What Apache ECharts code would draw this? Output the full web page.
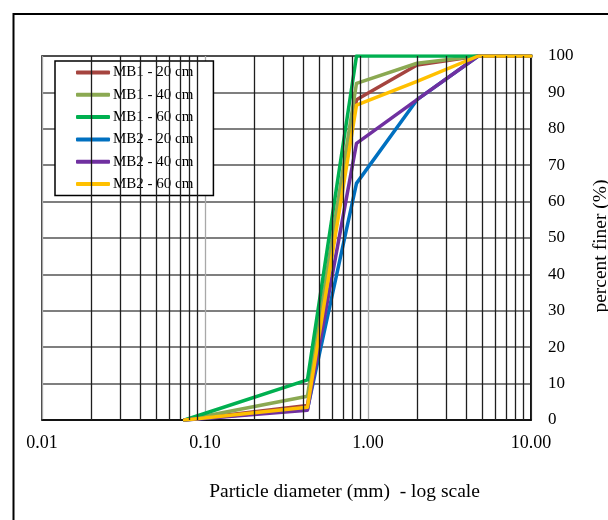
<!DOCTYPE html>
<html>
<head>
<meta charset="utf-8">
<script src="https://cdn.jsdelivr.net/npm/echarts@6/dist/echarts.min.js"></script>
<style>html,body{margin:0;padding:0;background:#fff;}#c{width:608px;height:520px;}</style>
</head>
<body>
<div id="c"></div>
<script>
// Particle diameters (mm)
var diameters = [0.075, 0.425, 0.85, 2.0, 4.75, 10];
// Percent finer per sample
var mb1_20 = [0, 4, 88, 97.5, 100, 100];
var mb1_40 = [0, 6.5, 92.5, 98, 100, 100];
var mb1_60 = [0, 11, 100, 100, 100, 100];
var mb2_20 = [0, 3, 65, 88, 100, 100];
var mb2_40 = [0, 2.7, 76, 88, 100, 100];
var mb2_60 = [0, 3.5, 86.5, 93, 100, 100];
var seriesNames = ['MB1 - 20 cm', 'MB1 - 40 cm', 'MB1 - 60 cm', 'MB2 - 20 cm', 'MB2 - 40 cm', 'MB2 - 60 cm'];
var seriesValues = [mb1_20, mb1_40, mb1_60, mb2_20, mb2_40, mb2_60];
var colors = ['#A5443F', '#8BA952', '#00B050', '#0070C0', '#7030A0', '#FFC000'];
var yTicks = [0, 10, 20, 30, 40, 50, 60, 70, 80, 90, 100];
var xDecades = [0.01, 0.1, 1];
var minorMultipliers = [2, 3, 4, 5, 6, 7, 8, 9];

var minorLines = [];
xDecades.forEach(function (d) {
  minorMultipliers.forEach(function (k) { minorLines.push({ xAxis: +(d * k).toPrecision(3) }); });
});

var FONT = '"Liberation Serif", "Times New Roman", serif';
var chart = echarts.init(document.getElementById('c'), null, { renderer: 'canvas' });

var series = [{
  type: 'line',
  name: '_grid',
  data: [],
  z: 1,
  silent: true,
  markLine: {
    silent: true,
    symbol: ['none', 'none'],
    label: { show: false },
    lineStyle: { color: '#1e1e1e', width: 1.3, type: 'solid' },
    emphasis: { disabled: true },
    animation: false,
    data: minorLines
  }
}];
seriesNames.forEach(function (n, i) {
  series.push({
    type: 'line',
    name: n,
    z: 3,
    showSymbol: false,
    symbol: 'none',
    lineStyle: { width: 3.5, color: colors[i], cap: 'round', join: 'round' },
    itemStyle: { color: colors[i] },
    data: diameters.map(function (x, j) { return [x, seriesValues[i][j]]; })
  });
});

chart.setOption({
  animation: false,
  backgroundColor: '#fff',
  graphic: [{
    type: 'rect',
    shape: { x: 13.5, y: 14, width: 700, height: 700 },
    style: { fill: 'none', stroke: '#000', lineWidth: 2 },
    z: 0
  }],
  grid: { left: 42, right: 77, top: 56, bottom: 100, containLabel: false, outerBoundsMode: 'none',
    show: true, borderColor: '#000', borderWidth: 1.5, backgroundColor: 'transparent' },
  legend: {
    data: seriesNames,
    orient: 'vertical',
    left: 55,
    top: 61,
    width: 161,
    padding: [4, 20, 4, 21],
    itemGap: 7.3,
    itemWidth: 34,
    itemHeight: 4,
    icon: 'roundRect',
    backgroundColor: '#fff',
    borderColor: '#000',
    borderWidth: 1.5,
    borderRadius: 0,
    textStyle: { fontFamily: FONT, fontSize: 15, color: '#000', padding: [0, 0, 0, -2] }
  },
  xAxis: {
    type: 'log',
    logBase: 10,
    min: 0.01,
    max: 10,
    name: 'Particle diameter (mm)  - log scale',
    nameLocation: 'middle',
    nameGap: 62,
    nameTextStyle: { fontFamily: FONT, fontSize: 19.5, color: '#000', padding: [0, 0, 0, 116] },
    axisLine: { show: true, lineStyle: { color: '#000', width: 1.5 } },
    axisTick: { show: false },
    axisLabel: {
      fontFamily: FONT, fontSize: 18, color: '#000', margin: 14,
      formatter: function (v) { return Number(v).toFixed(2); }
    },
    splitLine: { show: true, lineStyle: { color: '#a8a8a8', width: 1.3 } },
    minorTick: { show: false },
    minorSplitLine: { show: false }
  },
  yAxis: {
    type: 'value',
    position: 'right',
    min: 0,
    max: 100,
    interval: 10,
    name: 'percent finer (%)',
    nameLocation: 'middle',
    nameRotate: 90,
    nameGap: 60,
    nameTextStyle: { fontFamily: FONT, fontSize: 19.5, color: '#000', padding: [0, 16, 0, 0] },
    axisLine: { show: true, lineStyle: { color: '#000', width: 1.5 } },
    axisTick: { show: false },
    axisLabel: { fontFamily: FONT, fontSize: 17, color: '#000', margin: 17,
      formatter: function (v) { return yTicks.indexOf(v) >= 0 ? String(v) : ''; } },
    splitLine: { show: true, lineStyle: { color: '#555', width: 1.5 } }
  },
  series: series
});
</script>
</body>
</html>
